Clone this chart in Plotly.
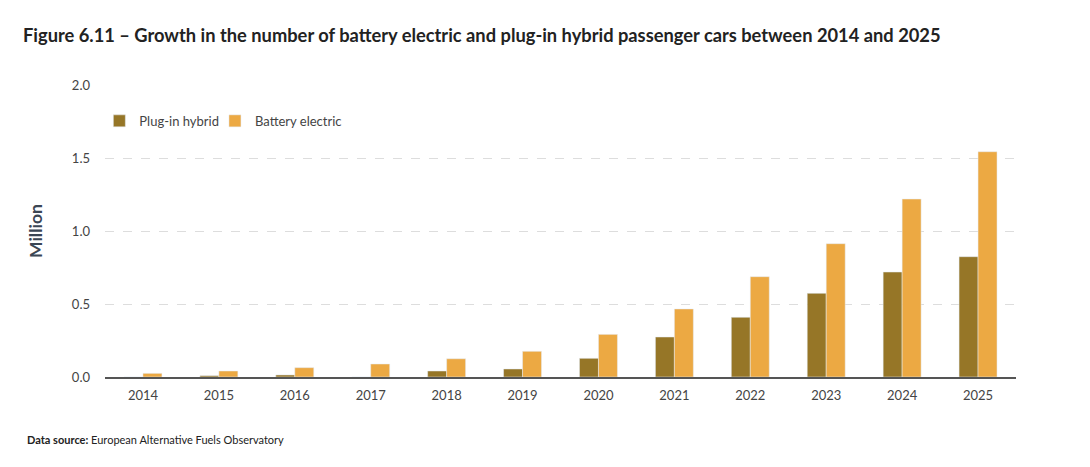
import plotly.graph_objects as go

years = ["2014", "2015", "2016", "2017", "2018", "2019",
         "2020", "2021", "2022", "2023", "2024", "2025"]
plug_in_hybrid = [0.0, 0.009, 0.014, 0.0, 0.041, 0.055,
                  0.128, 0.274, 0.409, 0.573, 0.719, 0.824]
battery_electric = [0.025, 0.041, 0.064, 0.089, 0.125, 0.176,
                    0.292, 0.466, 0.687, 0.913, 1.219, 1.543]

PHEV_COLOR = "#967627"
BEV_COLOR = "#ECA943"
FONT = "Lato"

fig = go.Figure()
fig.add_trace(go.Bar(x=years, y=plug_in_hybrid, name="Plug-in hybrid",
                     marker_color=PHEV_COLOR, legend="legend"))
fig.add_trace(go.Bar(x=years, y=battery_electric, name="Battery electric",
                     marker_color=BEV_COLOR, legend="legend2"))

legend_style = dict(
    orientation="h",
    yanchor="middle",
    y=0.877,
    xanchor="left",
    font=dict(size=13, color="#444444"),
    bgcolor="rgba(0,0,0,0)",
    itemwidth=30,
)

# page puts the figure 8px in from the corner, so everything is shifted back
fig.update_layout(
    width=1090,
    height=467,
    margin=dict(l=97, r=82, t=77, b=98),
    paper_bgcolor="white",
    plot_bgcolor="white",
    font=dict(family=FONT, size=13, color="#444444"),
    barmode="group",
    bargap=0.5,
    bargroupgap=0,
    title=dict(
        text="<b>Figure 6.11 – Growth in the number of battery electric and "
             "plug-in hybrid passenger cars between 2014 and 2025</b>",
        xref="container", x=15 / 1090, xanchor="left",
        yref="container", y=1 - 28 / 467, yanchor="middle",
        font=dict(family=FONT, size=18.3, color="#222222"),
    ),
    legend=dict(legend_style, x=-0.0062),
    legend2=dict(legend_style, x=0.1207),
    showlegend=True,
)

fig.update_xaxes(
    showgrid=False,
    showline=True,
    linecolor="#555555",
    linewidth=1.5,
    ticks="",
    ticklabelstandoff=6,
    tickfont=dict(size=13, color="#444444"),
)
fig.update_yaxes(
    range=[0, 2.0],
    dtick=0.5,
    tickformat=".1f",
    showgrid=True,
    gridcolor="#DDDDDD",
    griddash="dash",
    zeroline=False,
    showline=False,
    ticks="",
    ticklabelstandoff=14,
    tickfont=dict(size=13, color="#444444"),
)

fig.add_annotation(
    text="<b>Million</b>", textangle=-90,
    xref="paper", x=(27 - 97) / 911, xanchor="center",
    yref="paper", y=0.5, yanchor="middle",
    showarrow=False,
    font=dict(family=FONT, size=17.5, color="#3B4654"),
)
fig.add_annotation(
    text="<b>Data source:</b> European Alternative Fuels Observatory",
    xref="paper", x=(17 - 97) / 911, xanchor="left",
    yref="paper", y=(377 - 439) / 292, yanchor="middle",
    showarrow=False,
    font=dict(family=FONT, size=11, color="#222222"),
)

fig.write_html("out.html")
